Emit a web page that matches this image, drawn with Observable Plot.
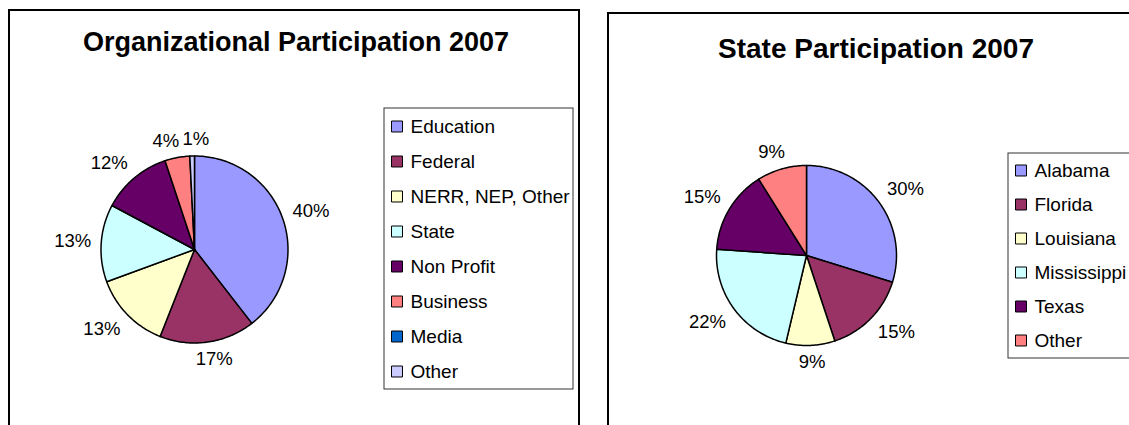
<!DOCTYPE html>
<html>
<head>
<meta charset="utf-8">
<script src="https://cdn.jsdelivr.net/npm/d3@7"></script>
<script src="https://cdn.jsdelivr.net/npm/@observablehq/plot@0.6"></script>
<style>
  html, body { margin: 0; padding: 0; background: #fff; }
  body { width: 1129px; height: 425px; overflow: hidden; position: relative;
         font-family: "Liberation Sans", Arial, sans-serif; }
  .frame { position: absolute; border: 2px solid #000; box-sizing: border-box; }
  .title { position: absolute; font-weight: bold; line-height: 1;
           text-align: center; white-space: nowrap; color: #000; }
</style>
</head>
<body>
<script>
// ---------------- data ----------------
const orgTitle = "Organizational Participation 2007";
const orgCategories = ["Education", "Federal", "NERR, NEP, Other", "State", "Non Profit", "Business", "Media", "Other"];
const orgValues = [39.5, 16.5, 13.4, 13.4, 12.1, 4.3, 0, 0.8];

const stateTitle = "State Participation 2007";
const stateCategories = ["Alabama", "Florida", "Louisiana", "Mississippi", "Texas", "Other"];
const stateValues = [29.8, 15.1, 8.8, 22.4, 15.0, 8.9];

// ---------------- styles ----------------
const orgPalette = ["#9999FF", "#993366", "#FFFFCC", "#CCFFFF", "#660066", "#FF8080", "#0066CC", "#CCCCFF"];
const statePalette = ["#9999FF", "#993366", "#FFFFCC", "#CCFFFF", "#660066", "#FF8080"];
const FONT = '"Liberation Sans", Arial, sans-serif';
const LABEL_SIZE = 18.5;
const LEGEND_SIZE = 19;

const ctx = document.createElement("canvas").getContext("2d");
function textWidth(t, size) { ctx.font = `${size}px ${FONT}`; return ctx.measureText(t).width; }

function place(el, left, top) {
  el.style.position = "absolute";
  el.style.left = left + "px";
  el.style.top = top + "px";
  document.body.appendChild(el);
  return el;
}

const clamp1 = v => Math.max(-1, Math.min(1, v));

function drawChart(cfg) {
  const {title, names, values, palette, frame, titleAt, pie, legend} = cfg;

  // frame
  const fr = document.createElement("div");
  fr.className = "frame";
  fr.style.width = frame.w + "px";
  fr.style.height = frame.h + "px";
  place(fr, frame.x, frame.y);

  // title (centered on titleAt.cx, baseline at titleAt.baseline)
  const t = document.createElement("div");
  t.className = "title";
  t.textContent = title;
  t.style.fontSize = titleAt.size + "px";
  t.style.width = "700px";
  place(t, titleAt.cx - 350, titleAt.baseline - titleAt.size * 0.8465);

  // pie slices
  const total = d3.sum(values);
  let acc = 0;
  const slices = names.map((name, i) => {
    const a0 = acc / total * 2 * Math.PI;
    acc += values[i];
    const a1 = acc / total * 2 * Math.PI;
    return {name, value: values[i], a0, a1, pct: Math.round(values[i] / total * 100)};
  });
  const arcPolygon = (s) => {
    const n = Math.max(2, Math.ceil((s.a1 - s.a0) / (Math.PI / 180)));
    const pts = [[0, 0]];
    for (let k = 0; k <= n; ++k) {
      const a = s.a0 + (s.a1 - s.a0) * k / n;
      pts.push([Math.sin(a), -Math.cos(a)]);
    }
    pts.push([0, 0]);
    return {type: "Polygon", coordinates: [pts]};
  };
  const S = pie.size, R = pie.r, half = S / 2 / R;
  const domain = {type: "Polygon", coordinates: [[[-half, -half], [half, -half], [half, half], [-half, half], [-half, -half]]]};

  // labels outside the pie; the nearest box corner sits just beyond the rim
  const rOut = (R + 10) / R;
  const labels = slices.filter(s => s.value > 0).map(s => {
    const text = s.pct + "%";
    return {text, angle: (s.a0 + s.a1) / 2, hw: textWidth(text, LABEL_SIZE) / 2 / R, hh: LABEL_SIZE * 0.38 / R};
  });
  const position = (l) => {
    const sx = Math.sin(l.angle), sy = -Math.cos(l.angle);
    l.x = sx * rOut + clamp1(sx * 2) * l.hw;
    l.y = sy * rOut + clamp1(sy * 2) * l.hh;
  };
  labels.forEach(position);
  // nudge neighbouring labels apart along the rim until they no longer overlap
  const gap = 3 / R;
  for (let it = 0; it < 200; ++it) {
    let moved = false;
    for (let i = 0; i < labels.length; ++i) {
      const a = labels[i], b = labels[(i + 1) % labels.length];
      if (a === b) continue;
      const ox = Math.abs(a.x - b.x) < a.hw + b.hw + gap;
      const oy = Math.abs(a.y - b.y) < a.hh + b.hh + gap;
      if (ox && oy) {
        a.angle -= 0.004; b.angle += 0.004;
        position(a); position(b);
        moved = true;
      }
    }
    if (!moved) break;
  }

  const piePlot = Plot.plot({
    width: S, height: S, margin: 0,
    projection: {type: "identity", domain},
    color: {domain: names, range: palette},
    style: {background: "transparent", overflow: "visible", fontFamily: FONT},
    marks: [
      Plot.geo(slices.filter(s => s.value > 0), {geometry: arcPolygon, fill: "name", stroke: "#000", strokeWidth: 1.5, strokeLinejoin: "round"}),
      Plot.text(labels, {x: "x", y: "y", text: "text", fontSize: LABEL_SIZE, fill: "#000"})
    ]
  });
  place(piePlot, pie.cx - S / 2, pie.cy - S / 2);

  // legend
  const legendPlot = Plot.plot({
    width: legend.w, height: legend.h, margin: 0,
    y: {type: "point", domain: names, padding: 0.5, axis: null},
    color: {domain: names, range: palette},
    style: {background: "#fff", overflow: "visible", fontFamily: FONT},
    marks: [
      Plot.frame({stroke: "#333", strokeWidth: 1, inset: 0.5}),
      Plot.dot(names, {y: d => d, frameAnchor: "left", dx: 13.5, symbol: "square", r: 6.2, fill: d => d, stroke: "#000", strokeWidth: 1}),
      Plot.text(names, {y: d => d, text: d => d, frameAnchor: "left", dx: 27, textAnchor: "start", fontSize: LEGEND_SIZE, fill: "#000"})
    ]
  });
  place(legendPlot, legend.x, legend.y);
}

drawChart({
  title: orgTitle, names: orgCategories, values: orgValues, palette: orgPalette,
  frame: {x: 8, y: 9, w: 572, h: 440},
  titleAt: {cx: 296, baseline: 51.5, size: 27},
  pie: {cx: 193.5, cy: 249, r: 93.5, size: 320},
  legend: {x: 383, y: 107, w: 190, h: 282}
});

drawChart({
  title: stateTitle, names: stateCategories, values: stateValues, palette: statePalette,
  frame: {x: 607, y: 12, w: 600, h: 440},
  titleAt: {cx: 876, baseline: 58.5, size: 28},
  pie: {cx: 806, cy: 254.5, r: 90, size: 320},
  legend: {x: 1007, y: 152, w: 170, h: 206}
});
</script>
</body>
</html>
